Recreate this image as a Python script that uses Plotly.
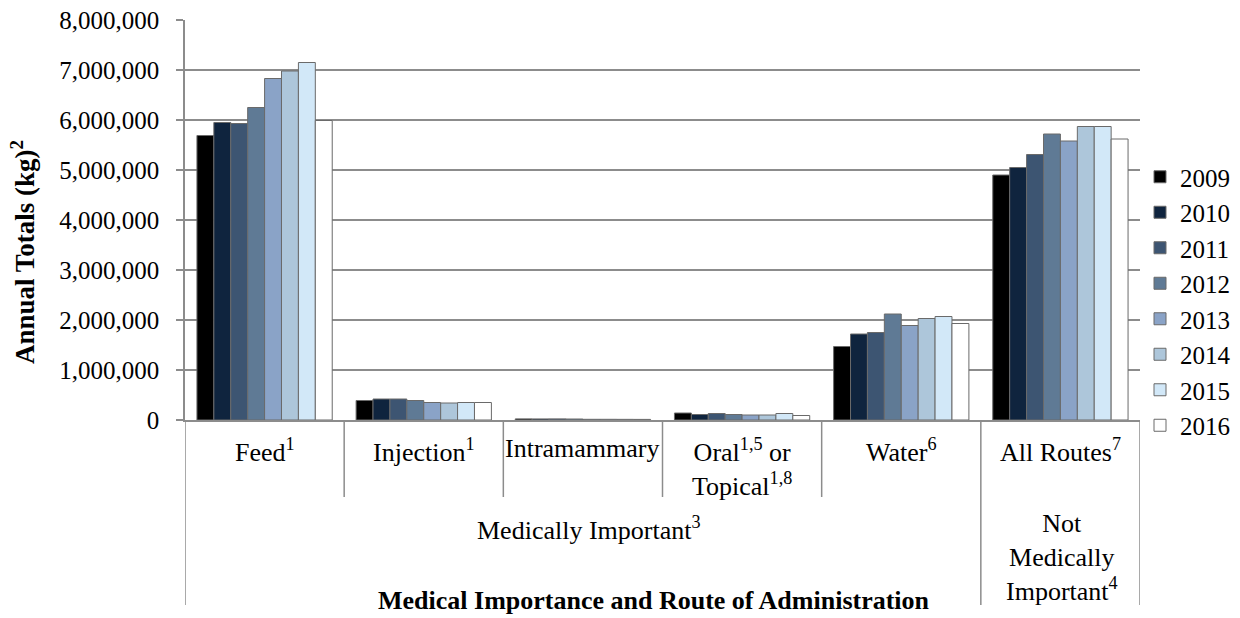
import plotly.graph_objects as go

# ── Data (kg) ─────────────────────────────────────────────────────
YEARS = ["2009", "2010", "2011", "2012", "2013", "2014", "2015", "2016"]
ROUTES = ["Feed", "Injection", "Intramammary", "Oral/Topical", "Water", "All Routes"]

FEED         = [5690000, 5950000, 5930000, 6250000, 6830000, 6980000, 7150000, 5990000]
INJECTION    = [390000, 420000, 420000, 390000, 350000, 340000, 350000, 350000]
INTRAMAMMARY = [22000, 21000, 22000, 20000, 14000, 14000, 13000, 12000]
ORAL_TOPICAL = [140000, 110000, 130000, 110000, 100000, 100000, 130000, 90000]
WATER        = [1470000, 1720000, 1750000, 2120000, 1890000, 2030000, 2070000, 1930000]
ALL_ROUTES   = [4900000, 5050000, 5310000, 5720000, 5580000, 5870000, 5870000, 5620000]

SERIES = [FEED, INJECTION, INTRAMAMMARY, ORAL_TOPICAL, WATER, ALL_ROUTES]

COLORS = ["#000000", "#0F243E", "#3D5572", "#5F7A95",
          "#8AA3C7", "#ADC6DA", "#D2E8F8", "#FFFFFF"]

# ── Style ─────────────────────────────────────────────────────────
FONT = "Liberation Serif"
GRAY = "#8C8C8C"
W, H = 1240, 618
L, R, T, B = 185, 100, 20, 198
PLOT_H = H - T - B


def py(pixel_y):
    """pixel row -> paper y"""
    return (H - B - pixel_y) / PLOT_H


def px(pixel_x):
    """pixel column -> paper x"""
    return (pixel_x - L) / (W - L - R)


fig = go.Figure()
for i, year in enumerate(YEARS):
    fig.add_trace(go.Bar(
        x=ROUTES,
        y=[s[i] for s in SERIES],
        name=year,
        marker=dict(color=COLORS[i], line=dict(color="#6A6A6A", width=1)),
    ))

# ── Table-style category axis below the plot ──────────────────────
shapes = []
for b in [-0.5, 4.5, 5.5]:
    shapes.append(dict(type="line", xref="x", yref="paper", x0=b, x1=b,
                       y0=0, y1=py(605), line=dict(color=GRAY, width=1.5)))
for b in [0.5, 1.5, 2.5, 3.5]:
    shapes.append(dict(type="line", xref="x", yref="paper", x0=b, x1=b,
                       y0=0, y1=py(497), line=dict(color=GRAY, width=1.5)))

ROW1 = py(432)
lab = dict(font=dict(family=FONT, size=26, color="black"),
           showarrow=False, xanchor="center")
annotations = [
    dict(x="Feed", xref="x", yref="paper", y=ROW1, yanchor="top",
         text="Feed<sup>1</sup>", **lab),
    dict(x="Injection", xref="x", yref="paper", y=ROW1, yanchor="top",
         text="Injection<sup>1</sup>", **lab),
    dict(x="Intramammary", xref="x", yref="paper", y=ROW1, yanchor="top",
         text="Intramammary", **lab),
    dict(x="Oral/Topical", xref="x", yref="paper", y=ROW1, yanchor="top",
         text="Oral<sup>1,5</sup> or<br>Topical<sup>1,8</sup>", **lab),
    dict(x="Water", xref="x", yref="paper", y=ROW1, yanchor="top",
         text="Water<sup>6</sup>", **lab),
    dict(x="All Routes", xref="x", yref="paper", y=ROW1, yanchor="top",
         text="All Routes<sup>7</sup>", **lab),
    dict(x=px(589), xref="paper", yref="paper", y=py(528), yanchor="middle",
         text="Medically Important<sup>3</sup>", **lab),
    dict(x=px(1062), xref="paper", yref="paper", y=py(557), yanchor="middle",
         text="Not<br>Medically<br>Important<sup>4</sup>", **lab),
    dict(x=px(654), xref="paper", yref="paper", y=py(600), yanchor="middle",
         text="<b>Medical Importance and Route of Administration</b>", **lab),
    dict(x=px(23), xref="paper", yref="paper", y=py(252), textangle=-90,
         text="<b>Annual Totals (kg)<sup>2</sup></b>",
         font=dict(family=FONT, size=27, color="black"),
         showarrow=False, yanchor="middle", xanchor="center"),
]

fig.update_layout(
    width=W, height=H,
    margin=dict(l=L, r=R, t=T, b=B, autoexpand=False),
    paper_bgcolor="white",
    plot_bgcolor="white",
    barmode="group",
    bargap=0.15,
    bargroupgap=0,
    font=dict(family=FONT, color="black", size=25),
    legend=dict(x=1.0, xanchor="left", y=py(301), yanchor="middle",
                font=dict(family=FONT, size=25, color="black"),
                bgcolor="rgba(0,0,0,0)"),
    shapes=shapes,
    annotations=annotations,
)
fig.update_xaxes(showticklabels=False, ticks="", showgrid=False,
                 showline=True, linecolor=GRAY, linewidth=1.5,
                 range=[-0.5, 5.5])
fig.update_yaxes(range=[0, 8000000], dtick=1000000, tickformat=",d",
                 showgrid=True, gridcolor=GRAY, gridwidth=1.5,
                 zeroline=False,
                 showline=True, linecolor=GRAY, linewidth=1.5,
                 ticks="outside", ticklen=7, tickcolor=GRAY, tickwidth=1.5,
                 ticklabelstandoff=12,
                 tickfont=dict(family=FONT, size=25, color="black"))

# the page's default body margin would shift the figure by 8px
fig.write_html("out.html", config={"displayModeBar": False},
               post_script="document.body.style.margin='0';")
